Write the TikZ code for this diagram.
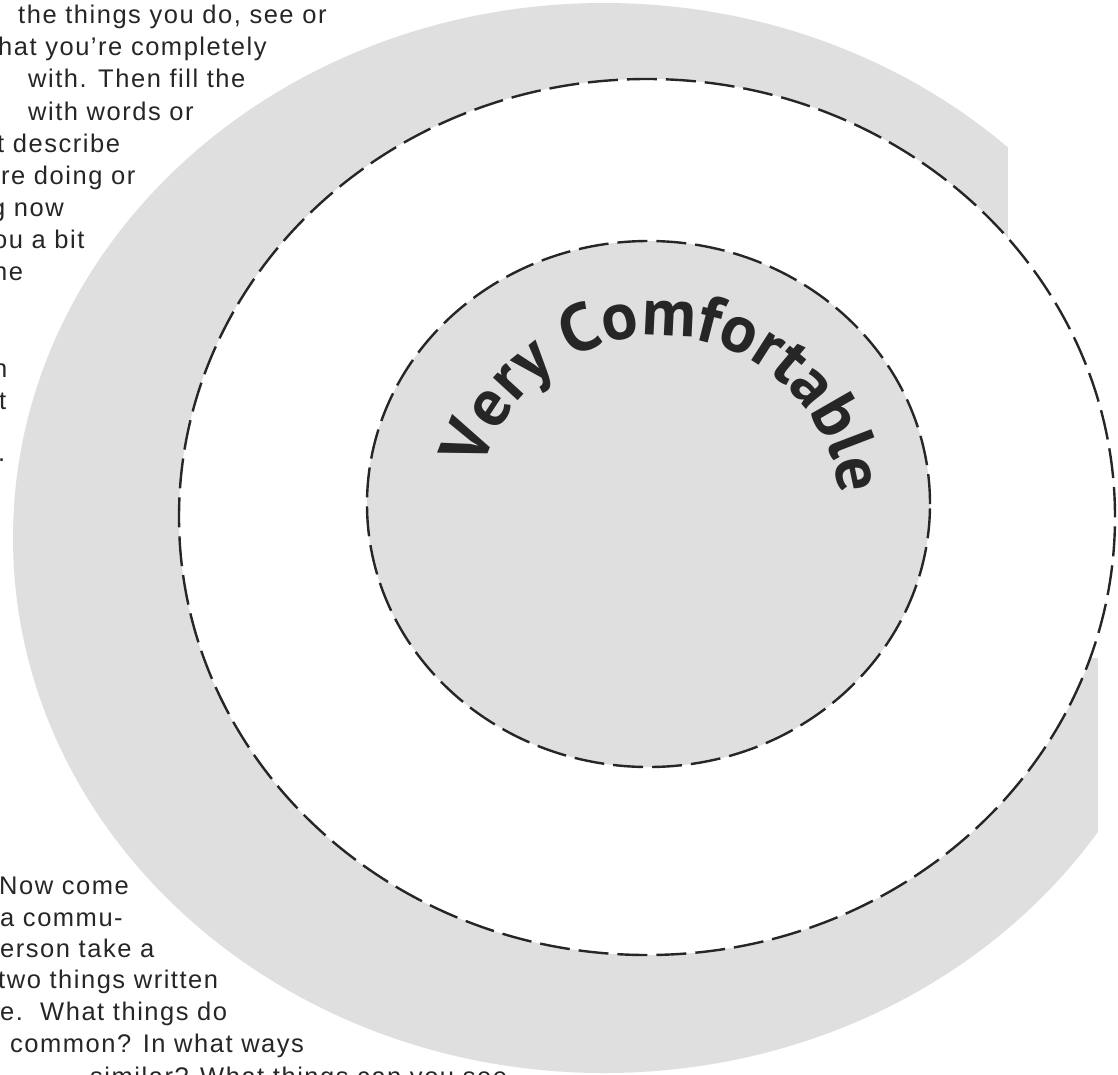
\documentclass[tikz,border=0pt]{standalone}
\usepackage{fontspec}
\setmainfont{Liberation Sans}
\newfontfamily\bodyfont[LetterSpace=6]{Liberation Sans}
\newfontfamily\arcfont{PT Sans}
\usetikzlibrary{decorations.text}
\definecolor{ringgray}{RGB}{223,223,223}
\definecolor{inkgray}{RGB}{38,38,38}
\begin{document}
\begin{tikzpicture}[x=1pt,y=1pt,
  txt/.style={anchor=base west, inner sep=0pt, font=\bodyfont\fontsize{25.5}{30}\selectfont, text=inkgray},
  dashring/.style={draw=black!85, line width=2.4pt, dash pattern=on 30pt off 9pt}]
\useasboundingbox (0,0) rectangle (1118,-1074);
\clip (0,0) rectangle (1118,-1074);
\fill[white] (0,0) rectangle (1118,-1074);
% outer grey ring
\fill[ringgray] (604,-538) ellipse [x radius=591, y radius=535];
\fill[white] (1008,0) rectangle (1118,-658);
\fill[white] (1098,-658) rectangle (1118,-1074);
% middle white ring
\fill[white] (647,-517) ellipse [x radius=468, y radius=438];
\draw[dashring] (647,-517) ellipse [x radius=468, y radius=438];
% inner grey disc
\fill[ringgray] (648.5,-504) ellipse [x radius=281.5, y radius=263];
\draw[dashring] (648.5,-504) ellipse [x radius=281.5, y radius=263];
% curved title
\path[decorate, decoration={text along path, text align=center, text color=inkgray,
  text={|\arcfont\bfseries\fontsize{67}{67}\selectfont|Very Comfortable}}]
  (659,-514) ++(176:182 and 178) arc[start angle=176, end angle=-4, x radius=182, y radius=178];
% left text, top
\node[txt] (t1) at (18,-23) {the things you do, see or};
\node[txt] (t2) at (-2,-55) {hat you’re completely};
\node[txt] (t3) at (28,-87) {with. Then fill the};
\node[txt] (t4) at (28,-120) {with words or};
\node[txt] (t5) at (-3,-152) {t describe};
\node[txt] (t6) at (1,-184) {re doing or};
\node[txt] (t7) at (-9,-216) {g now};
\node[txt] (t8) at (-7,-248) {ou a bit};
\node[txt] (t9) at (-7,-280) {he};
\node[txt] (t10) at (-7,-377) {n};
\node[txt] (t11) at (-1,-409) {t};
\node[txt] (t12) at (-2,-461) {.};
% left text, bottom
\node[txt] (b1) at (-1,-894) {Now come};
\node[txt] (b2) at (0,-926) {a commu-};
\node[txt] (b3) at (0,-957) {erson take a};
\node[txt] (b4) at (-2,-988) {two things written};
\node[txt] (b5) at (0,-1020) {e.\ \ What things do};
\node[txt] (b6) at (10,-1052) {common? In what ways};
\node[txt] (b7) at (90,-1085) {similar? What things can you see};
\end{tikzpicture}
\end{document}
